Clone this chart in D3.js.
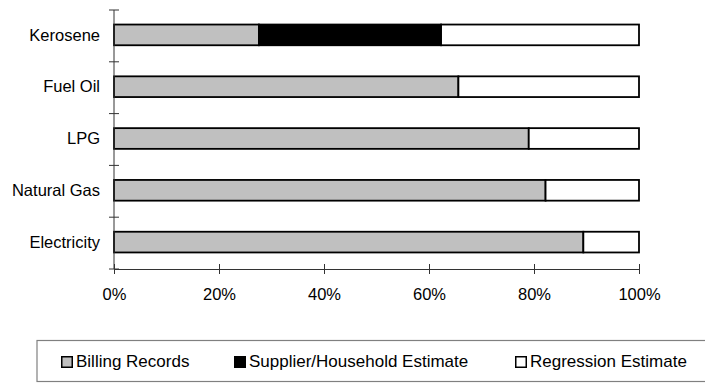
<!DOCTYPE html>
<html>
<head>
<meta charset="utf-8">
<script src="https://cdn.jsdelivr.net/npm/d3@7"></script>
<style>
  html, body { margin: 0; padding: 0; background: #fff; }
  svg { display: block; font-family: Arial, "Liberation Sans", sans-serif; }
</style>
</head>
<body>
<svg id="chart" width="705" height="383"></svg>
<script>
// Share of households by data source, per fuel type
const categories = ["Kerosene", "Fuel Oil", "LPG", "Natural Gas", "Electricity"];
const billingRecords = [0.276, 0.656, 0.790, 0.822, 0.894];
const supplierEstimate = [0.347, 0, 0, 0, 0];
const regressionEstimate = [0.377, 0.344, 0.210, 0.178, 0.106];
const seriesNames = ["Billing Records", "Supplier/Household Estimate", "Regression Estimate"];
const seriesColors = ["#c0c0c0", "#000000", "#ffffff"];
const xTicks = [0, 0.2, 0.4, 0.6, 0.8, 1.0];

const svg = d3.select("#chart");

const x = d3.scaleLinear().domain([0, 1]).range([114, 639]);
const y = d3.scaleBand().domain(categories).range([10, 269])
  .paddingInner(0.6).paddingOuter(0.3);

const rows = categories.map((c, i) => ({
  category: c,
  [seriesNames[0]]: billingRecords[i],
  [seriesNames[1]]: supplierEstimate[i],
  [seriesNames[2]]: regressionEstimate[i]
}));
const stacked = d3.stack().keys(seriesNames)(rows);
const color = d3.scaleOrdinal().domain(seriesNames).range(seriesColors);

// stacked bars
const layers = svg.append("g").selectAll("g").data(stacked).join("g")
  .attr("fill", d => color(d.key));
layers.selectAll("rect")
  .data(d => d.filter(s => s[1] - s[0] > 0))
  .join("rect")
  .attr("x", d => x(d[0]))
  .attr("y", d => y(d.data.category) - 1)
  .attr("width", d => x(d[1]) - x(d[0]))
  .attr("height", y.bandwidth())
  .attr("stroke", "#000")
  .attr("stroke-width", 1.8);

// y axis: line, category separators and labels
const yAxis = svg.append("g");
yAxis.append("line")
  .attr("x1", x(0)).attr("x2", x(0))
  .attr("y1", y.range()[0]).attr("y2", y.range()[1])
  .attr("stroke", "#333").attr("stroke-width", 1);
const boundaries = categories.map(c => y(c) - y.step() * y.paddingInner() / 2)
  .concat([y.range()[1]]);
boundaries[0] = y.range()[0];
yAxis.selectAll("line.sep").data(boundaries).join("line")
  .attr("class", "sep")
  .attr("x1", x(0) - 5).attr("x2", x(0) + 5)
  .attr("y1", d => d).attr("y2", d => d)
  .attr("stroke", "#333").attr("stroke-width", 1);
yAxis.selectAll("text").data(categories).join("text")
  .attr("x", 100)
  .attr("y", d => y(d) + y.bandwidth() / 2 - 1)
  .attr("dy", "0.35em")
  .attr("text-anchor", "end")
  .attr("font-size", 16.5)
  .attr("fill", "#000")
  .text(d => d);

// x axis
const xAxis = svg.append("g")
  .attr("transform", `translate(0,${y.range()[1]})`)
  .call(d3.axisBottom(x).tickValues(xTicks).tickFormat(d3.format(".0%")).tickSize(5).tickSizeOuter(0));
xAxis.select(".domain").attr("stroke", "#333");
xAxis.selectAll(".tick line").attr("y1", -5).attr("y2", 5).attr("stroke", "#333");
xAxis.selectAll(".tick text")
  .attr("y", 19)
  .attr("font-size", 16.5)
  .attr("font-family", "Arial, 'Liberation Sans', sans-serif")
  .attr("fill", "#000");

// legend
const legend = svg.append("g");
legend.append("rect")
  .attr("x", 37).attr("y", 340.5)
  .attr("width", 700).attr("height", 41)
  .attr("fill", "none").attr("stroke", "#808080").attr("stroke-width", 1.2);
const legendX = [61, 234, 515];
const items = legend.selectAll("g.item").data(seriesNames).join("g")
  .attr("class", "item")
  .attr("transform", (d, i) => `translate(${legendX[i]},356)`);
items.append("rect")
  .attr("x", 0.75).attr("y", 0.75)
  .attr("width", 10.5).attr("height", 10.5)
  .attr("fill", d => color(d))
  .attr("stroke", "#000").attr("stroke-width", 1.5);
items.append("text")
  .attr("x", 15).attr("y", 11)
  .attr("font-size", 17)
  .attr("fill", "#000")
  .text(d => d);
</script>
</body>
</html>
